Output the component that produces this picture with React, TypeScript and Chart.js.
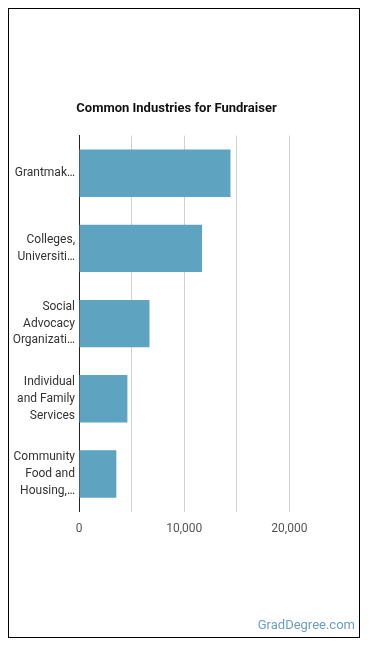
import React, { useEffect, useRef } from "react";
import { Chart, registerables } from "chart.js";

Chart.register(...registerables);

const categories: string[][] = [
  ["Grantmak…"],
  ["Colleges,", "Universiti…"],
  ["Social", "Advocacy", "Organizati…"],
  ["Individual", "and Family", "Services"],
  ["Community", "Food and", "Housing,…"],
];
const employment: number[] = [14400, 11700, 6700, 4600, 3550];
const tickStep = 5000;
const axisMax = 25000;

export default function App() {
  const ref = useRef<HTMLCanvasElement | null>(null);
  useEffect(() => {
    if (!ref.current) return;
    const chart = new Chart(ref.current, {
      type: "bar",
      data: {
        labels: categories,
        datasets: [
          {
            data: employment,
            backgroundColor: "#5ea3c0",
            borderWidth: 0,
            barPercentage: 0.7,
            categoryPercentage: 0.9,
          },
        ],
      },
      options: {
        indexAxis: "y",
        animation: false,
        responsive: false,
        maintainAspectRatio: false,
        layout: { padding: { left: 2, right: 17, top: 0, bottom: 91 } },
        plugins: {
          legend: { display: false },
          tooltip: { enabled: false },
          title: {
            display: true,
            text: "Common Industries for Fundraiser",
            font: { family: "Roboto", size: 13, weight: "bold" },
            color: "#111",
            padding: { top: 92, bottom: 19 },
          },
        },
        scales: {
          x: {
            min: 0,
            max: axisMax,
            grid: {
              drawTicks: false,
              color: (ctx: any) =>
                ctx.tick && ctx.tick.value === axisMax ? "rgba(0,0,0,0)" : "#d0d0d0",
            },
            border: { display: false },
            ticks: {
              stepSize: tickStep,
              padding: 10,
              autoSkip: false,
              maxRotation: 0,
              color: "#555",
              font: { family: "Roboto", size: 12 },
              callback: (v: any) =>
                Number(v) % 10000 === 0 && Number(v) < axisMax
                  ? Number(v).toLocaleString("en-US")
                  : "",
            },
          },
          y: {
            grid: { display: false, drawTicks: false },
            border: { display: true, color: "#222", width: 1 },
            afterFit: (scale: any) => {
              scale.width = 68;
            },
            ticks: {
              padding: 4,
              color: "#333",
              font: { family: "Roboto", size: 12, lineHeight: 1.4 },
            },
          },
        },
      },
    });
    return () => chart.destroy();
  }, []);
  return (
    <div
      style={{
        position: "relative",
        width: 350,
        height: 628,
        border: "1px solid #000",
      }}
    >
      <canvas ref={ref} width={350} height={628} style={{ display: "block" }} />
      <div
        style={{
          position: "absolute",
          right: 4,
          top: 608,
          fontFamily: "Roboto",
          fontSize: 13,
          color: "#6b9fbf",
        }}
      >
        GradDegree.com
      </div>
    </div>
  );
}
